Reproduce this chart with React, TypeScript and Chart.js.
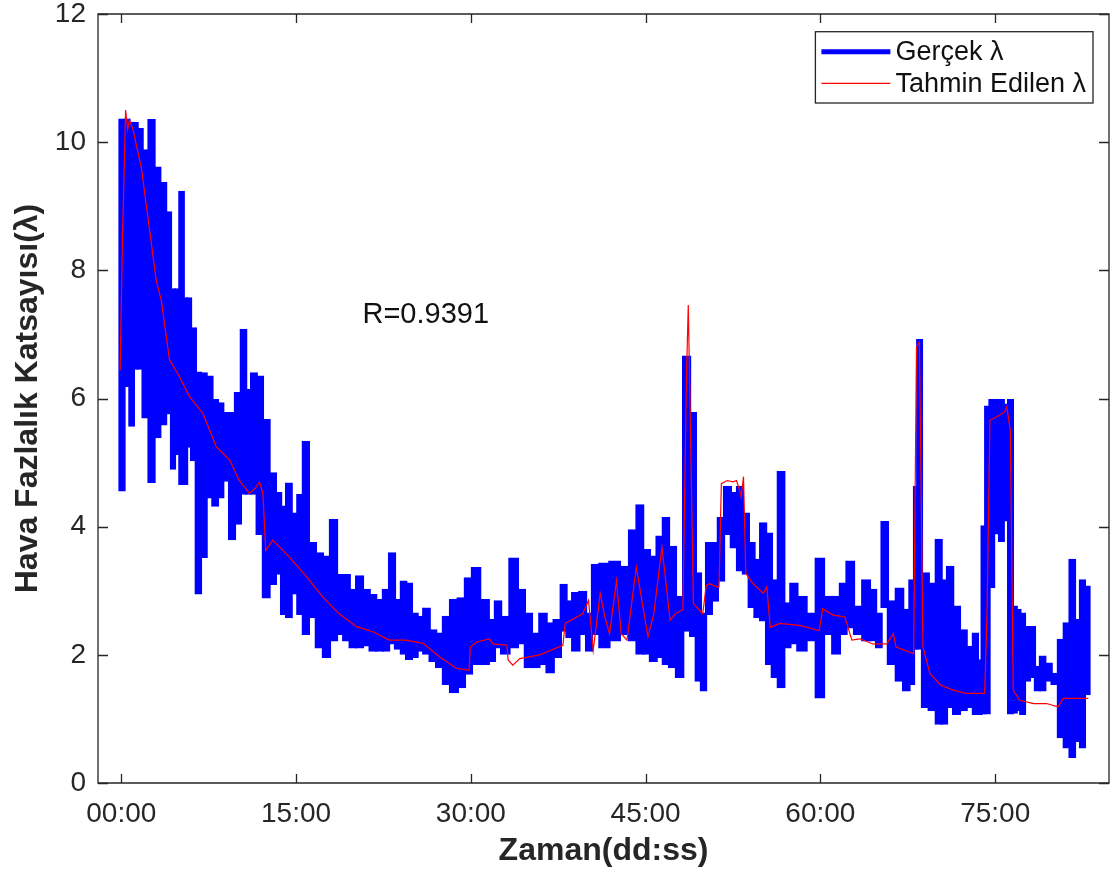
import React, { useEffect, useRef } from 'react';
import { Chart, registerables } from 'chart.js';

Chart.register(...registerables);

const FONT = '"Liberation Sans", Arial, Helvetica, sans-serif';
const TEXT = '#262626';

// ---- axis set-up ----
const X_MIN = -2.0;
const X_MAX = 84.77;
const Y_MIN = 0;
const Y_MAX = 12;
const xTickValues = [0, 15, 30, 45, 60, 75];
const xTickLabels = ['00:00', '15:00', '30:00', '45:00', '60:00', '75:00'];
const yTickValues = [0, 2, 4, 6, 8, 10, 12];

// ---- measured λ (Gerçek): start time of each step (minutes; last entry = end), upper / lower edge of the band ----
const gercekZaman = [
  -0.15, 0.27, 0.7, 1.13, 1.3, 1.85, 2.3, 2.9, 3.3, 3.9,
  4.3, 4.56, 5.0, 5.4, 5.6, 6.0, 6.35, 6.85, 7.28, 7.86,
  8.29, 8.72, 9.29, 9.72, 10.29, 10.72, 11.15, 11.58, 12.15, 12.72,
  13.29, 13.72, 14.15, 14.58, 15.15, 15.58, 16.01, 16.73, 17.3, 17.87,
  18.59, 19.02, 19.6, 20.17, 20.74, 21.31, 21.88, 22.45, 23.02, 23.45,
  24.03, 24.46, 24.89, 25.46, 25.89, 26.46, 27.03, 27.6, 28.18, 28.9,
  29.5, 30.05, 30.77, 31.63, 32.06, 32.5, 33.35, 34.06, 34.63, 35.2,
  35.92, 36.5, 37.07, 37.78, 38.21, 38.64, 39.35, 39.93, 40.36, 40.93,
  41.93, 42.79, 43.65, 44.22, 44.79, 45.37, 45.94, 46.51, 46.94, 47.65,
  48.17, 48.94, 49.23, 49.8, 50.15, 50.66, 51.23, 51.66, 52.38, 52.81,
  53.38, 53.81, 54.38, 54.81, 55.38, 55.81, 56.3, 56.96, 57.4, 57.95,
  58.81, 59.67, 60.24, 61.1, 61.67, 62.24, 62.82, 63.67, 64.25, 64.82,
  65.25, 65.68, 66.54, 67.11, 67.68, 68.11, 68.25, 68.68, 69.26, 69.97,
  70.4, 70.83, 71.4, 71.97, 72.55, 73.12, 73.55, 73.84, 74.12, 74.55,
  74.84, 75.41, 75.69, 76.12, 76.55, 76.84, 77.13, 77.56, 77.98, 78.41, 78.84, 79.27,
  79.84, 80.42, 80.85, 81.42, 81.85, 82.28, 82.71, 83.08,
];
const gercekUst = [
  10.35, 10.35, 10.3, 10.3, 10.2, 9.87, 10.34, 9.6, 9.36, 8.9,
  7.7, 7.7, 9.22, 7.56, 7.56, 7.09, 6.4, 6.39, 6.34, 5.97,
  5.92, 5.77, 5.77, 6.08, 7.07, 6.13, 6.39, 6.34, 5.66, 4.83,
  4.52, 4.31, 4.67, 4.2, 4.49, 5.32, 3.74, 3.58, 3.53, 4.1,
  3.24, 3.24, 3.01, 3.22, 3.01, 2.93, 2.85, 3.01, 3.58, 2.85,
  3.14, 3.11, 2.64, 2.59, 2.72, 2.38, 2.33, 2.59, 2.85, 2.88,
  3.19, 3.35, 2.85, 2.54, 2.83, 2.59, 3.5, 3.01, 2.64, 2.33,
  2.64, 2.49, 2.54, 3.09, 2.83, 2.96, 2.98, 2.64, 3.4, 3.42,
  3.45, 3.37, 3.94, 4.33, 3.63, 3.53, 3.84, 4.13, 3.68, 2.9,
  6.65, 5.77, 3.27, 2.64, 3.74, 3.74, 4.13, 4.62, 4.52, 4.62,
  4.2, 3.74, 3.48, 4.05, 3.89, 3.16, 4.85, 2.8, 3.11, 2.9,
  2.64, 3.5, 2.9, 2.9, 3.11, 3.45, 2.75, 3.16, 3.01, 2.64,
  4.07, 2.83, 3.03, 2.7, 3.16, 4.62, 6.91, 3.27, 3.11, 3.79,
  3.16, 3.37, 2.75, 2.38, 2.12, 2.33, 1.91, 4.0, 5.87, 5.97,
  5.97, 5.97, 5.9, 5.97, 2.75, 2.7, 2.64, 2.43, 2.43, 1.81, 1.97, 1.86,
  1.7, 2.23, 2.49, 3.48, 2.54, 3.16, 3.06, 3.06,
];
const gercekAlt = [
  4.57, 6.2, 5.58, 6.47, 6.47, 5.71, 4.7, 5.4, 5.6, 5.77,
  4.91, 5.14, 4.67, 4.67, 5.25, 5.04, 2.96, 3.53, 4.46, 4.33,
  4.46, 4.72, 3.81, 4.05, 4.52, 4.52, 4.52, 3.89, 2.9, 3.11,
  3.27, 2.64, 2.59, 2.96, 2.64, 2.33, 2.59, 2.12, 1.97, 2.23,
  2.33, 2.23, 2.12, 2.12, 2.15, 2.07, 2.07, 2.07, 2.18, 2.1,
  2.02, 1.94, 1.97, 2.07, 2.02, 1.91, 1.81, 1.55, 1.42, 1.5,
  1.71, 1.86, 1.86, 1.91, 2.12, 2.02, 2.12, 2.18, 1.81, 1.81,
  1.86, 1.73, 1.97, 2.38, 2.28, 2.07, 2.33, 2.07, 2.33, 2.12,
  2.23, 2.33, 2.23, 2.02, 2.02, 1.91, 1.97, 1.86, 1.81, 1.66,
  2.38, 2.3, 1.6, 1.45, 2.64, 2.85, 3.16, 3.89, 3.68, 3.32,
  3.27, 2.75, 2.59, 2.54, 1.86, 1.66, 1.5, 2.12, 2.18, 2.07,
  2.23, 1.34, 2.33, 2.02, 2.33, 2.43, 2.33, 2.23, 2.23, 2.12,
  2.75, 1.86, 1.6, 1.45, 1.55, 2.1, 2.1, 1.19, 1.14, 0.93,
  0.93, 1.19, 1.08, 1.14, 1.19, 1.08, 1.08, 1.09, 1.09, 3.06,
  3.9, 3.78, 4.1, 1.09, 1.1, 1.14, 1.08, 1.6, 1.66, 1.45, 1.45, 1.6,
  1.55, 0.72, 0.56, 0.41, 0.66, 0.56, 1.39, 1.39,
];

// ---- estimated λ (Tahmin Edilen) ----
const tahminZaman = [
  -0.1, 0.1, 0.37, 0.55, 0.7, 1.0, 1.72, 2.58, 3.0, 3.43,
  4.14, 5.0, 5.85, 7.0, 8.14, 9.3, 10.1, 11.0, 11.5, 11.86,
  12.15, 12.4, 13.0, 14.4, 15.9, 17.3, 18.7, 20.2, 21.6, 23.0,
  24.4, 25.9, 27.3, 28.75, 29.85, 29.95, 30.5, 31.6, 31.9, 33.1,
  33.2, 33.6, 34.2, 35.9, 37.9, 38.1, 39.6, 40.1, 40.5, 41.1,
  41.5, 41.9, 42.5, 42.9, 43.4, 44.2, 45.2, 45.7, 46.4, 47.1,
  47.6, 48.2, 48.5, 48.66, 48.8, 49.1, 49.9, 50.2, 50.5, 51.1,
  51.3, 51.5, 52.0, 52.5, 52.8, 53.1, 53.2, 53.4, 53.6, 54.2,
  55.1, 55.4, 55.7, 56.5, 58.2, 59.9, 60.2, 61.1, 62.1, 62.7,
  63.4, 64.5, 65.7, 66.25, 66.5, 68.0, 68.25, 68.5, 68.8, 69.4,
  70.3, 71.4, 72.5, 74.1, 74.3, 74.55, 75.1, 75.8, 76.0, 76.3,
  76.55, 77.1, 78.3, 79.4, 80.4, 80.85, 83.0,
];
const tahminDeger = [
  6.44, 8.5, 10.5, 10.2, 10.35, 10.2, 9.6, 8.42, 7.84, 7.53,
  6.6, 6.34, 6.03, 5.77, 5.25, 5.04, 4.73, 4.52, 4.6, 4.7,
  4.52, 3.63, 3.79, 3.53, 3.22, 2.9, 2.64, 2.44, 2.36, 2.23,
  2.23, 2.18, 1.97, 1.79, 1.76, 2.12, 2.2, 2.25, 2.17, 2.15,
  1.92, 1.84, 1.94, 2.0, 2.15, 2.49, 2.64, 2.85, 2.07, 2.96,
  2.59, 2.33, 3.16, 2.33, 2.23, 3.37, 2.28, 2.64, 3.68, 2.54,
  2.65, 2.7, 6.28, 7.46, 6.03, 2.8, 2.64, 3.08, 3.11, 3.06,
  3.06, 4.67, 4.72, 4.7, 4.72, 4.55, 4.46, 4.78, 3.27, 3.11,
  2.96, 3.06, 2.43, 2.49, 2.46, 2.38, 2.72, 2.62, 2.59, 2.23,
  2.25, 2.17, 2.17, 2.33, 2.12, 2.02, 6.81, 6.88, 2.12, 1.71,
  1.53, 1.45, 1.4, 1.4, 2.64, 5.66, 5.71, 5.79, 5.87, 5.5,
  1.45, 1.29, 1.24, 1.24, 1.19, 1.32, 1.32,
];

// ---- annotation ----
const R_LABEL = 'R=0.9391';
const R_POS = { x: 20.7, y: 7.18 };

const LABEL_GERCEK = 'Gerçek λ';
const LABEL_TAHMIN = 'Tahmin Edilen λ';

const BLUE = '#0000ff';
const RED = '#ff0000';

const matlabPlugin = {
  id: 'matlabDecor',
  afterDatasetsDraw(chart: any) {
    const { ctx, chartArea, scales } = chart;
    const { left, right, top, bottom } = chartArea;
    const x = scales.x;
    const y = scales.y;
    ctx.save();
    ctx.strokeStyle = TEXT;
    ctx.lineWidth = 1.3;
    ctx.beginPath();
    ctx.rect(left, top, right - left, bottom - top);
    ctx.stroke();
    ctx.beginPath();
    x.ticks.forEach((t: any) => {
      const px = Math.round(x.getPixelForValue(t.value)) + 0.5;
      ctx.moveTo(px, bottom);
      ctx.lineTo(px, bottom - 9);
      ctx.moveTo(px, top);
      ctx.lineTo(px, top + 9);
    });
    y.ticks.forEach((t: any) => {
      const py = Math.round(y.getPixelForValue(t.value)) + 0.5;
      ctx.moveTo(left, py);
      ctx.lineTo(left + 10, py);
      ctx.moveTo(right, py);
      ctx.lineTo(right - 10, py);
    });
    ctx.stroke();

    // R annotation
    ctx.fillStyle = '#111111';
    ctx.font = `29px ${FONT}`;
    ctx.textAlign = 'left';
    ctx.textBaseline = 'alphabetic';
    ctx.fillText(R_LABEL, x.getPixelForValue(R_POS.x), y.getPixelForValue(R_POS.y));

    // legend (inside, top-right)
    const ds = chart.data.datasets;
    const items = [
      { label: ds[1].label, color: BLUE, width: 5 },
      { label: ds[0].label, color: RED, width: 1.2 },
    ];
    ctx.font = `27px ${FONT}`;
    const textW = Math.max(...items.map((d) => ctx.measureText(d.label).width));
    const sample = 69;
    const boxRight = right - 16;
    const boxTop = top + 17.7;
    const boxH = 71.3;
    const boxW = 6 + sample + 5 + textW + 7;
    const boxLeft = boxRight - boxW;
    ctx.fillStyle = '#ffffff';
    ctx.fillRect(boxLeft, boxTop, boxW, boxH);
    ctx.strokeStyle = TEXT;
    ctx.lineWidth = 1.3;
    ctx.strokeRect(boxLeft, boxTop, boxW, boxH);
    items.forEach((d, i) => {
      const ly = boxTop + 20 + i * 31.6;
      ctx.beginPath();
      ctx.strokeStyle = d.color;
      ctx.lineWidth = d.width;
      ctx.moveTo(boxLeft + 6, ly);
      ctx.lineTo(boxLeft + 6 + sample, ly);
      ctx.stroke();
      ctx.fillStyle = '#111111';
      ctx.textBaseline = 'middle';
      ctx.fillText(d.label, boxLeft + 6 + sample + 5, ly + 1);
    });
    ctx.restore();
  },
};

export default function App() {
  const ref = useRef<HTMLCanvasElement>(null);

  useEffect(() => {
    if (!ref.current) return;
    // one floating bar per measured step: spans [start, next start], from lower to upper edge
    const band = gercekUst.slice(0, -1).map((hi, i) => ({
      x: (gercekZaman[i] + gercekZaman[i + 1]) / 2,
      y: [gercekAlt[i], hi],
    }));
    const est = tahminZaman.map((t, i) => ({ x: t, y: tahminDeger[i] }));

    const chart = new Chart(ref.current, {
      type: 'line',
      data: {
        datasets: [
          {
            type: 'line',
            label: LABEL_TAHMIN,
            data: est,
            borderColor: RED,
            borderWidth: 1.2,
            pointRadius: 0,
            fill: false,
            tension: 0,
            order: 0,
          },
          {
            type: 'bar',
            label: LABEL_GERCEK,
            data: band,
            backgroundColor: BLUE,
            borderColor: BLUE,
            borderWidth: 1,
            borderSkipped: false,
            barThickness: 'flex',
            barPercentage: 1,
            categoryPercentage: 1,
            inflateAmount: 1.3,
            order: 1,
          },
        ],
      } as any,
      options: {
        responsive: false,
        animation: false,
        layout: { padding: { top: 14, right: 1, left: 0, bottom: 0 } },
        plugins: {
          legend: { display: false },
          tooltip: { enabled: false },
        },
        scales: {
          x: {
            type: 'linear',
            min: X_MIN,
            max: X_MAX,
            offset: false,
            grid: { display: false, drawTicks: false, offset: false },
            border: { display: false },
            afterBuildTicks: (s: any) => {
              s.ticks = xTickValues.map((v) => ({ value: v }));
            },
            afterFit: (s: any) => {
              s.height = 89;
              s.paddingLeft = 0;
              s.paddingRight = 0;
            },
            ticks: {
              color: TEXT,
              font: { family: FONT, size: 28 },
              padding: 14,
              maxRotation: 0,
              autoSkip: false,
              callback: (_v: any, i: number) => xTickLabels[i],
            },
            title: {
              display: true,
              text: 'Zaman(dd:ss)',
              color: TEXT,
              font: { family: FONT, size: 32, weight: 'bold', lineHeight: 1.2 },
              padding: { top: 0, bottom: 2 },
            },
          },
          y: {
            type: 'linear',
            min: Y_MIN,
            max: Y_MAX,
            grid: { display: false, drawTicks: false },
            border: { display: false },
            afterBuildTicks: (s: any) => {
              s.ticks = yTickValues.map((v) => ({ value: v }));
            },
            afterFit: (s: any) => {
              s.width = 98;
              s.paddingTop = 0;
              s.paddingBottom = 0;
            },
            ticks: {
              color: TEXT,
              font: { family: FONT, size: 28 },
              padding: 12,
              callback: (v: any) => String(v),
            },
            title: {
              display: true,
              text: 'Hava Fazlalık Katsayısı(λ)',
              color: TEXT,
              font: { family: FONT, size: 32, weight: 'bold', lineHeight: 1.2 },
              padding: { top: 9, bottom: 0 },
            },
          },
        },
      } as any,
      plugins: [matlabPlugin],
    });
    return () => chart.destroy();
  }, []);

  return (
    <div style={{ position: 'absolute', left: 0, top: 0, width: 1110, height: 872, background: '#ffffff' }}>
      <canvas ref={ref} width={1110} height={872} style={{ display: 'block', width: 1110, height: 872 }} />
    </div>
  );
}
